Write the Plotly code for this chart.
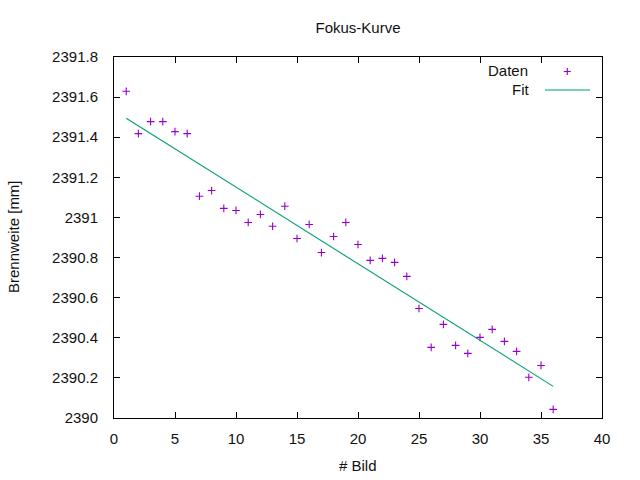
import plotly.graph_objects as go

# Data
bild = list(range(1, 37))
brennweite = [
    2391.629, 2391.418, 2391.478, 2391.478, 2391.428, 2391.418,
    2391.106, 2391.134, 2391.045, 2391.035, 2390.975, 2391.015,
    2390.956, 2391.056, 2390.895, 2390.965, 2390.825, 2390.905,
    2390.975, 2390.865, 2390.786, 2390.796, 2390.776, 2390.706,
    2390.546, 2390.352, 2390.467, 2390.362, 2390.322, 2390.402,
    2390.442, 2390.382, 2390.332, 2390.203, 2390.262, 2390.043,
]
# linear fit parameters
fit_slope = -0.0382
fit_intercept = 2391.533
fit_x = [1, 36]
fit_y = [fit_intercept + fit_slope * x for x in fit_x]

x_ticks = [0, 5, 10, 15, 20, 25, 30, 35, 40]
y_ticks = [2390.0, 2390.2, 2390.4, 2390.6, 2390.8, 2391.0, 2391.2, 2391.4, 2391.6, 2391.8]
y_ticktext = ["2390", "2390.2", "2390.4", "2390.6", "2390.8", "2391",
              "2391.2", "2391.4", "2391.6", "2391.8"]

PURPLE = "#9400d3"
GREEN = "#009e73"
FONT = "Liberation Sans, Arial, sans-serif"
FS = 15
TXT = "#111"

fig = go.Figure()
fig.add_trace(go.Scatter(
    x=bild, y=brennweite, mode="markers", name="Daten",
    marker=dict(symbol="cross-thin", size=5.5, color=PURPLE,
                line=dict(color=PURPLE, width=1.1)),
    showlegend=False,
))
fig.add_trace(go.Scatter(
    x=fit_x, y=fit_y, mode="lines", name="Fit",
    line=dict(color=GREEN, width=1.1), showlegend=False,
))

axis_common = dict(
    showgrid=False, zeroline=False, showline=True, linecolor="black",
    linewidth=1, mirror="ticks", ticks="inside", ticklen=6, tickwidth=1,
    tickcolor="black", tickfont=dict(family=FONT, size=FS, color=TXT),
)
fig.update_xaxes(range=[0, 40], tickvals=x_ticks,
                 ticktext=[str(v) for v in x_ticks],
                 ticklabelstandoff=7, **axis_common)
fig.update_yaxes(range=[2390, 2391.8], tickvals=y_ticks, ticktext=y_ticktext,
                 ticklabelstandoff=12, **axis_common)

# Legend drawn manually (gnuplot style: text right-aligned, sample on right)
fig.add_annotation(xref="paper", yref="paper", x=(530 - 114) / 488, y=(418 - 70.7) / 361,
                   text="Daten", showarrow=False, xanchor="right", yanchor="middle",
                   font=dict(family=FONT, size=FS, color=TXT))
fig.add_annotation(xref="paper", yref="paper", x=(531 - 114) / 488, y=(418 - 89.3) / 361,
                   text="Fit", showarrow=False, xanchor="right", yanchor="middle",
                   font=dict(family=FONT, size=FS, color=TXT))
# '+' legend sample
px, py = 567.3, 71.5
fig.add_shape(type="line", xref="paper", yref="paper",
              x0=(px - 3.5 - 114) / 488, x1=(px + 3.5 - 114) / 488,
              y0=(418 - py) / 361, y1=(418 - py) / 361,
              line=dict(color=PURPLE, width=1.1))
fig.add_shape(type="line", xref="paper", yref="paper",
              x0=(px - 114) / 488, x1=(px - 114) / 488,
              y0=(418 - py - 3.5) / 361, y1=(418 - py + 3.5) / 361,
              line=dict(color=PURPLE, width=1.1))
fig.add_shape(type="line", xref="paper", yref="paper",
              x0=(545 - 114) / 488, x1=(590 - 114) / 488,
              y0=(418 - 90) / 361, y1=(418 - 90) / 361,
              line=dict(color=GREEN, width=1.1))

# Axis titles
fig.add_annotation(xref="paper", yref="paper", x=0.5, y=-(465 - 418) / 361,
                   text="# Bild", showarrow=False, xanchor="center", yanchor="middle",
                   font=dict(family=FONT, size=FS, color=TXT))
fig.add_annotation(xref="paper", yref="paper", x=-(114 - 13) / 488, y=(418 - 237) / 361,
                   text="Brennweite [mm]", showarrow=False, textangle=-90,
                   xanchor="center", yanchor="middle",
                   font=dict(family=FONT, size=FS, color=TXT))

fig.update_layout(
    width=640, height=480,
    margin=dict(l=114, r=38, t=57, b=62),
    paper_bgcolor="white", plot_bgcolor="white",
    title=dict(text="Fokus-Kurve", x=358 / 640, xanchor="center",
               y=1 - 28 / 480, yanchor="middle",
               font=dict(family=FONT, size=FS, color=TXT)),
)

fig.write_html("out.html")
